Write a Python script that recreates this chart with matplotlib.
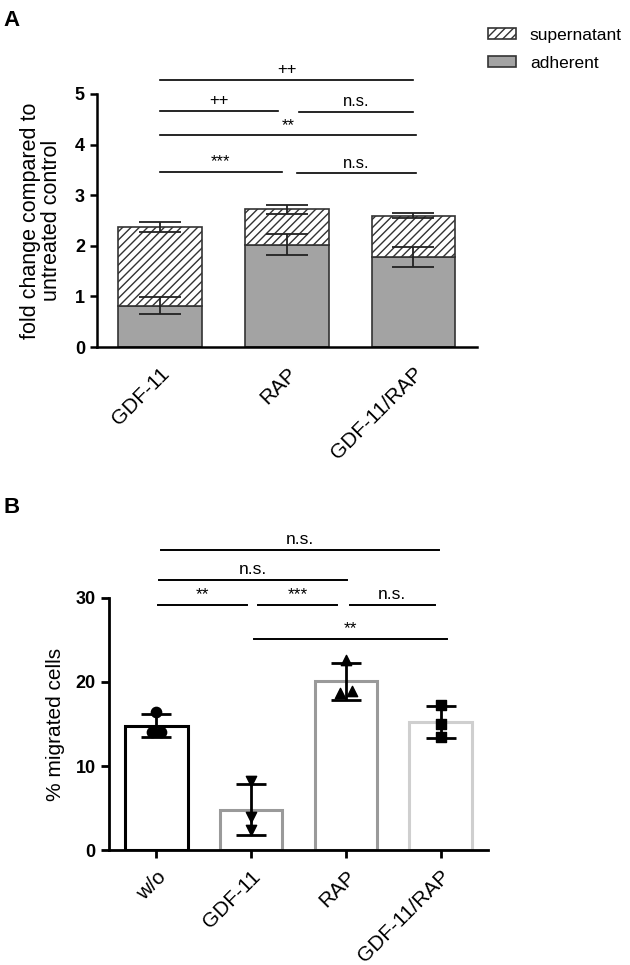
import matplotlib.pyplot as plt
import numpy as np
from matplotlib.patches import Patch

plt.rcParams['font.family'] = ['Liberation Sans', 'DejaVu Sans']
plt.rcParams['hatch.linewidth'] = 1.0

# ---- panel A data (fold change) ----
groups_a = ['GDF-11', 'RAP', 'GDF-11/RAP']
adherent = [0.82, 2.02, 1.78]
adherent_sd = [0.17, 0.21, 0.19]
supernatant = [1.56, 0.70, 0.81]
total_sd = [0.10, 0.09, 0.05]
# (from, to, height, label)
sig_a = [(0, 2, 5.28, '++'), (0, 0.93, 4.67, '++'), (1.1, 2, 4.65, 'n.s.'),
         (0, 2.02, 4.18, '**'), (0, 0.96, 3.46, '***'), (1.08, 2.02, 3.43, 'n.s.')]

# ---- panel B data (% migrated cells, 3 replicates each) ----
groups_b = ['w/o', 'GDF-11', 'RAP', 'GDF-11/RAP']
reps_b = [[16.4, 14.0, 14.0], [8.2, 3.9, 2.4], [22.6, 18.7, 18.9], [17.25, 15.0, 13.4]]
sig_b = [(0.05, 2.98, 35.7, 'n.s.'), (0.03, 2.01, 32.1, 'n.s.'), (0.02, 0.96, 29.1, '**'),
         (1.07, 1.91, 29.1, '***'), (2.04, 2.94, 29.1, 'n.s.'), (1.03, 3.07, 25.1, '**')]

markers_b = ['o', 'v', '^', 's']
jitter_b = [[0, -0.05, 0.05], [0, 0, 0], [0, -0.065, 0.065], [0, 0, 0]]
edge_b = ['black', '#9a9a9a', '#9a9a9a', '#cfcfcf']


def add_sig(ax, comps, lw, fs):
    for x1, x2, y, lab in comps:
        ax.plot([x1, x2], [y, y], color='black', lw=lw, clip_on=False)
        ax.annotate(lab, xy=((x1 + x2) / 2, y), xytext=(0, 2), textcoords='offset points',
                    ha='center', va='bottom', fontsize=fs, annotation_clip=False)


fig = plt.figure(figsize=(6.3, 9.65), dpi=100)

# ---------------- A ----------------
axa = fig.add_axes([0.1535, 0.6404, 0.6032, 0.2622])
xa = np.arange(len(groups_a))
tot = np.array(adherent) + np.array(supernatant)
axa.bar(xa, adherent, width=0.66, color='#a3a3a3', edgecolor='#333333', lw=1.2, zorder=2)
axa.bar(xa, supernatant, bottom=adherent, width=0.66, color='white', edgecolor='#333333',
        hatch='////', lw=1.2, zorder=2)
axa.errorbar(xa, adherent, yerr=adherent_sd, fmt='none', ecolor='#222222', elinewidth=1.3,
             capsize=15, capthick=1.3, zorder=3)
axa.errorbar(xa, tot, yerr=total_sd, fmt='none', ecolor='#222222', elinewidth=1.3,
             capsize=15, capthick=1.3, zorder=3)
axa.set_xlim(-0.5, 2.5)
axa.set_ylim(0, 5)
axa.set_yticks(range(6))
axa.set_xticks(xa)
axa.set_xticklabels(groups_a, rotation=45, ha='right', rotation_mode='anchor', fontsize=15)
axa.tick_params(axis='x', length=0, pad=12)
axa.tick_params(axis='y', width=1.8, length=5, labelsize=13)
for t in axa.get_yticklabels():
    t.set_fontweight('bold')
for s in ['top', 'right']:
    axa.spines[s].set_visible(False)
for s in ['left', 'bottom']:
    axa.spines[s].set_linewidth(1.8)
axa.set_ylabel('fold change compared to\nuntreated control', fontsize=15.5, labelpad=9,
               linespacing=1.0)
add_sig(axa, sig_a, 1.2, 12)

handles = [Patch(facecolor='white', edgecolor='#333333', hatch='////', lw=1.2, label='supernatant'),
           Patch(facecolor='#a3a3a3', edgecolor='#333333', lw=1.2, label='adherent')]
fig.legend(handles=handles, loc='upper left', bbox_to_anchor=(0.775, 0.9715), frameon=False,
           fontsize=12.5, handlelength=1.6, handleheight=0.6, handletextpad=0.8,
           labelspacing=0.77, borderpad=0, borderaxespad=0)

# ---------------- B ----------------
axb = fig.add_axes([0.173, 0.1189, 0.6016, 0.2618])
xb = np.arange(len(groups_b))
means = [np.mean(r) for r in reps_b]
sds = [np.std(r, ddof=1) for r in reps_b]
axb.bar(xb, means, width=0.66, color='white', edgecolor=edge_b, lw=2.2, zorder=2)
axb.errorbar(xb, means, yerr=sds, fmt='none', ecolor='black', elinewidth=2.0,
             capsize=11, capthick=2.0, zorder=3)
for i, r in enumerate(reps_b):
    axb.scatter(i + np.array(jitter_b[i]), r, marker=markers_b[i], s=55, color='black', zorder=4)
axb.set_xlim(-0.5, 3.5)
axb.set_ylim(0, 30)
axb.set_yticks([0, 10, 20, 30])
axb.set_xticks(xb)
axb.set_xticklabels(groups_b, rotation=45, ha='right', rotation_mode='anchor', fontsize=15)
axb.tick_params(axis='x', width=2.0, length=6, pad=6)
axb.tick_params(axis='y', width=2.0, length=6, labelsize=13)
for t in axb.get_yticklabels():
    t.set_fontweight('bold')
for s in ['top', 'right']:
    axb.spines[s].set_visible(False)
for s in ['left', 'bottom']:
    axb.spines[s].set_linewidth(2.0)
axb.set_ylabel('% migrated cells', fontsize=15, labelpad=8)
add_sig(axb, sig_b, 1.4, 12.5)

fig.text(0.005, 0.99, 'A', fontsize=16, fontweight='bold', va='top')
fig.text(0.005, 0.485, 'B', fontsize=16, fontweight='bold', va='top')

fig.savefig('out.png', dpi=100)
